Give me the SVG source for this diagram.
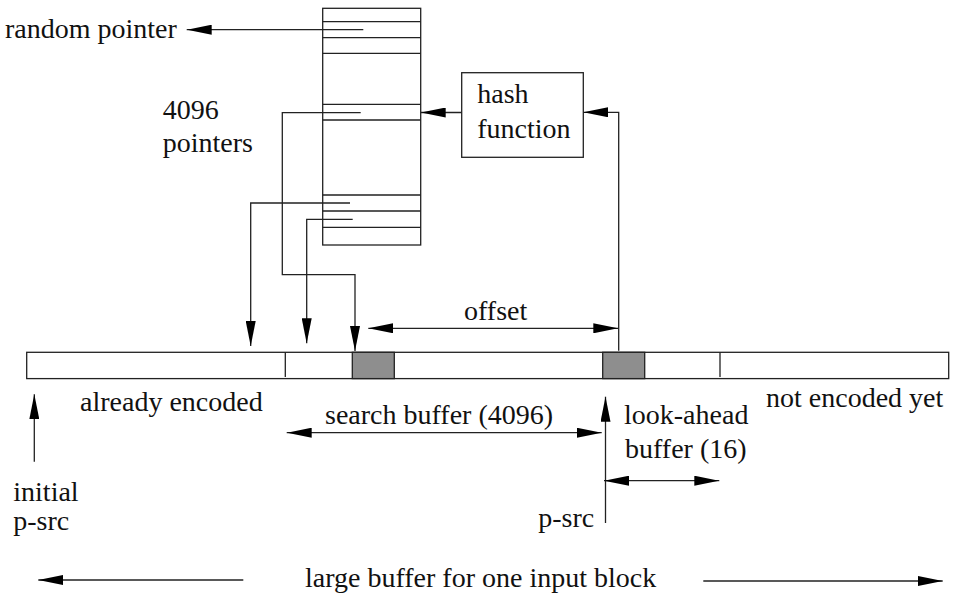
<svg xmlns="http://www.w3.org/2000/svg" width="957" height="596" viewBox="0 0 957 596">
<style>
  .ln { fill: none; stroke: #222; stroke-width: 1.3; }
  .ar { fill: none; stroke: #222; stroke-width: 1.3; marker-end: url(#ah); }
  .ar2 { fill: none; stroke: #222; stroke-width: 1.3; marker-start: url(#ah); marker-end: url(#ah); }
  .box { fill: #fff; stroke: #222; stroke-width: 1.3; }
  .gray { fill: #8e8e8e; stroke: #222; stroke-width: 1.3; }
  .t { font-size: 28px; fill: #111; }
</style>
<defs>
  <marker id="ah" viewBox="0 0 25 10" markerUnits="userSpaceOnUse" markerWidth="25" markerHeight="10" refX="25" refY="5" orient="auto-start-reverse">
    <path d="M0,0 L25,5 L0,10 z" fill="#000"/>
  </marker>
</defs>
<rect width="957" height="596" fill="#fff"/>

<g id="pointer-table" font-family="Liberation Serif">
  <rect class="box" x="322.7" y="8.3" width="98" height="236.7"/>
  <path class="ln" d="M322.7,21.7 H420.7 M322.7,37.7 H420.7 M322.7,53.3 H420.7 M322.7,104.3 H420.7 M322.7,120 H420.7 M322.7,195 H420.7 M322.7,211 H420.7 M322.7,227.3 H420.7"/>
  <text class="t" font-family="Liberation Serif" x="162.7" y="119.3">4096</text>
  <text class="t" font-family="Liberation Serif" x="162.7" y="151.7">pointers</text>
</g>

<g id="hash-function" font-family="Liberation Serif">
  <rect class="box" x="461.7" y="72.7" width="121.6" height="84.6"/>
  <text class="t" font-family="Liberation Serif" x="477.3" y="103.3">hash</text>
  <text class="t" font-family="Liberation Serif" x="477.3" y="138.3">function</text>
</g>

<g id="input-buffer" font-family="Liberation Serif">
  <rect class="box" x="26.7" y="352.3" width="922" height="26.3"/>
  <path class="ln" d="M285.3,352.3 V377 M720,352.3 V377"/>
  <rect class="gray" x="352.3" y="352.3" width="42" height="26.3"/>
  <rect class="gray" x="602.7" y="352.3" width="42" height="26.3"/>
  <text class="t" font-family="Liberation Serif" x="80" y="411">already encoded</text>
  <text class="t" font-family="Liberation Serif" x="766" y="407">not encoded yet</text>
</g>

<g id="labels" font-family="Liberation Serif">
  <text class="t" font-family="Liberation Serif" x="5" y="38.3">random pointer</text>
  <text class="t" font-family="Liberation Serif" x="464" y="320">offset</text>
  <text class="t" font-family="Liberation Serif" x="325" y="424">search buffer (4096)</text>
  <text class="t" font-family="Liberation Serif" x="624" y="424">look-ahead</text>
  <text class="t" font-family="Liberation Serif" x="625" y="458.3">buffer (16)</text>
  <text class="t" font-family="Liberation Serif" x="13.3" y="501">initial</text>
  <text class="t" font-family="Liberation Serif" x="13.3" y="530">p-src</text>
  <text class="t" font-family="Liberation Serif" x="538.3" y="527">p-src</text>
  <text class="t" font-family="Liberation Serif" x="305" y="586.7">large buffer for one input block</text>
</g>

<g id="connectors">
  <path class="ar" d="M363.3,29.7 H186.7"/>
  <path class="ar" d="M360.7,112.7 H282.3 V274.7 H355 V351"/>
  <path class="ar" d="M350,203 H250.7 V346"/>
  <path class="ar" d="M352.7,219.3 H306.7 V343.3"/>
  <path class="ar" d="M461.7,112.5 H420.7"/>
  <path class="ar" d="M618.7,350.7 V112.3 H583.3"/>
  <path class="ar2" d="M368.3,328.3 H618.3"/>
  <path class="ar2" d="M286.7,432.7 H601.7"/>
  <path class="ar" d="M605.5,523 V396.7"/>
  <path class="ar2" d="M604,480.7 H719.3"/>
  <path class="ar" d="M34.3,461.7 V394.3"/>
  <path class="ar" d="M243.3,580 H38.3"/>
  <path class="ar" d="M703.3,581 H942.7"/>
</g>
</svg>
